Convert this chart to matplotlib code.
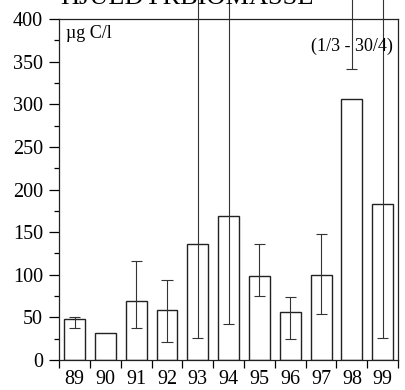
import matplotlib
matplotlib.use("Agg")
import matplotlib.pyplot as plt
import numpy as np

years = ["89", "90", "91", "92", "93", "94", "95", "96", "97", "98", "99"]
biomass = [48, 32, 69, 59, 136, 169, 99, 56, 100, 306, 183]
err_low = [37, 32, 38, 21, 26, 42, 75, 25, 54, 341, 26]
err_high = [51, 32, 116, 94, 480, 480, 136, 74, 148, 480, 480]

plt.rcParams['font.family'] = ['Liberation Serif', 'DejaVu Serif']

fig = plt.figure(figsize=(4.05, 3.9), dpi=100)
ax = fig.add_axes([0.146, 0.077, 0.837, 0.874])

x = np.arange(len(years))
ax.bar(x, biomass, width=0.68, color='white', edgecolor='#222222', linewidth=1.0, zorder=2)

# error bars: vertical line plus caps, may run past the top of the axes
ax.vlines(x, err_low, err_high, color='#333333', linewidth=0.8, clip_on=False, zorder=3)
has_err = [lo != hi for lo, hi in zip(err_low, err_high)]
ax.hlines([lo for lo, h in zip(err_low, has_err) if h], x[has_err] - 0.18, x[has_err] + 0.18,
          color='#333333', linewidth=0.8, zorder=3)
caps_hi = [(xi, hi) for xi, hi, h in zip(x, err_high, has_err) if h and hi <= 400]
ax.hlines([c[1] for c in caps_hi], [c[0] - 0.18 for c in caps_hi], [c[0] + 0.18 for c in caps_hi],
          color='#333333', linewidth=0.8, zorder=3)

ax.set_xlim(-0.5, len(years) - 0.5)
ax.set_ylim(0, 400)
ax.set_yticks(np.arange(0, 401, 50))
ax.set_yticks(np.arange(0, 401, 25), minor=True)
ax.set_xticks(x)
ax.set_xticklabels(years)
ax.set_xticks(np.arange(-0.5, len(years)), minor=True)

ax.tick_params(axis='y', which='major', direction='out', length=7.5, width=0.9, labelsize=14.5, pad=4)
ax.tick_params(axis='y', which='minor', direction='out', length=3.8, width=0.9)
ax.tick_params(axis='x', which='major', length=0, labelsize=14.5, pad=7)
ax.tick_params(axis='x', which='minor', direction='out', length=6, width=0.9)
for s in ax.spines.values():
    s.set_linewidth(0.9)
    s.set_color('#222222')

ax.text(0.02, 0.982, "µg C/l", transform=ax.transAxes, fontsize=13, va='top', ha='left')
ax.text(0.985, 0.946, "(1/3 - 30/4)", transform=ax.transAxes, fontsize=13, va='top', ha='right')

# title, cropped at the top edge like in the source
fig.text(0.149, 0.99, "HJULDYRBIOMASSE", fontsize=19, ha='left', va='baseline')

fig.savefig("out.png", dpi=100)
